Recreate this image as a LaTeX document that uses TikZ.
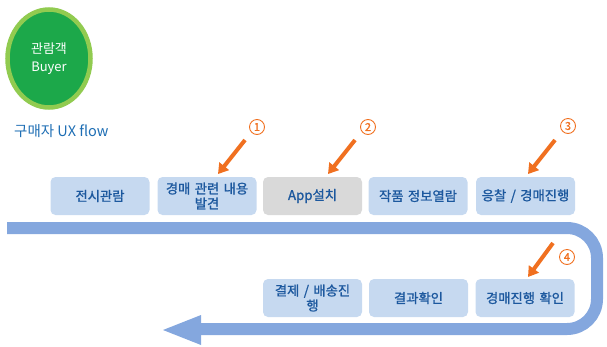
\documentclass[tikz,border=0pt]{standalone}
\usepackage{fontspec}
\setmainfont{Noto Sans CJK KR}
\newfontfamily\krbox{Noto Sans CJK KR}[FakeBold=1.2]
\usetikzlibrary{arrows.meta,shapes.geometric}
\definecolor{boxblue}{RGB}{198,217,240}
\definecolor{boxgray}{RGB}{217,217,217}
\definecolor{txtblue}{RGB}{28,88,158}
\definecolor{bandblue}{RGB}{132,167,222}
\definecolor{org}{RGB}{240,112,32}
\definecolor{gout}{RGB}{145,203,80}
\definecolor{gin}{RGB}{28,168,74}
\definecolor{titleblue}{RGB}{30,110,180}
\begin{document}
\begin{tikzpicture}[x=1pt,y=-1pt,
  stepbox/.style={fill=boxblue, rounded corners=5pt, minimum width=99pt, minimum height=38pt,
    text width=97pt, align=center, inner sep=0pt, text=txtblue,
    font=\krbox\fontsize{13.3}{15}\selectfont},
  graybox/.style={stepbox, fill=boxgray},
  numcirc/.style={circle, draw=org, line width=0.9pt, text=org, inner sep=0pt,
    minimum size=15pt, font=\krbox\fontsize{11}{11}\selectfont},
  pointer/.style={draw=org, line width=4pt, -{Triangle[length=10pt,width=12pt]}},
  flowband/.style={draw=bandblue, line width=12pt, rounded corners=30pt}]
\useasboundingbox (0,0) rectangle (607,346);

% buyer ellipse
\node[ellipse, fill=gin, draw=gout, line width=4.5pt, minimum width=83pt, minimum height=98pt,
  text=white, align=center, font=\fontsize{13}{18}\selectfont] (buyer) at (49,58.5) {관람객\\Buyer};
\node[text=titleblue, font=\fontsize{14.5}{16}\selectfont, anchor=west, inner sep=0pt] (title) at (14,131) {구매자 UX flow};

% band
\coordinate (bs) at (7,228);
\coordinate (bc1) at (597,228);
\coordinate (bc2) at (597,329);
\coordinate (be) at (199,329);
\coordinate (h1) at (201,315);
\coordinate (h2) at (163,330);
\coordinate (h3) at (201,345);
\draw[flowband] (bs) -- (bc1) -- (bc2) -- (be);
\fill[bandblue] (h1) -- (h2) -- (h3) -- cycle;

% top row
\node[stepbox] (s1) at (100,196) {전시관람};
\node[stepbox] (s2) at (207,196) {경매 관련 내용\\발견};
\node[graybox] (s3) at (312.5,196) {App설치};
\node[stepbox] (s4) at (418,196) {작품 정보열람};
\node[stepbox] (s5) at (525.5,196) {응찰 / 경매진행};

% bottom row
\node[stepbox] (b1) at (312.5,298) {결제 / 배송진\\행};
\node[stepbox] (b2) at (418.5,298) {결과확인};
\node[stepbox] (b3) at (525,298) {경매진행 확인};

% numbers and pointers
\node[numcirc] (n1) at (257,127) {1};
\node[numcirc] (n2) at (368,127) {2};
\node[numcirc] (n3) at (568,126) {3};
\node[numcirc] (n4) at (567,257) {4};
\coordinate (p1s) at (245,140); \coordinate (p1e) at (218,174);
\coordinate (p2s) at (355,140); \coordinate (p2e) at (328,174);
\coordinate (p3s) at (555,140); \coordinate (p3e) at (528,174);
\coordinate (p4s) at (553,243); \coordinate (p4e) at (528,277);
\draw[pointer] (p1s) -- (p1e);
\draw[pointer] (p2s) -- (p2e);
\draw[pointer] (p3s) -- (p3e);
\draw[pointer] (p4s) -- (p4e);
\end{tikzpicture}
\end{document}
